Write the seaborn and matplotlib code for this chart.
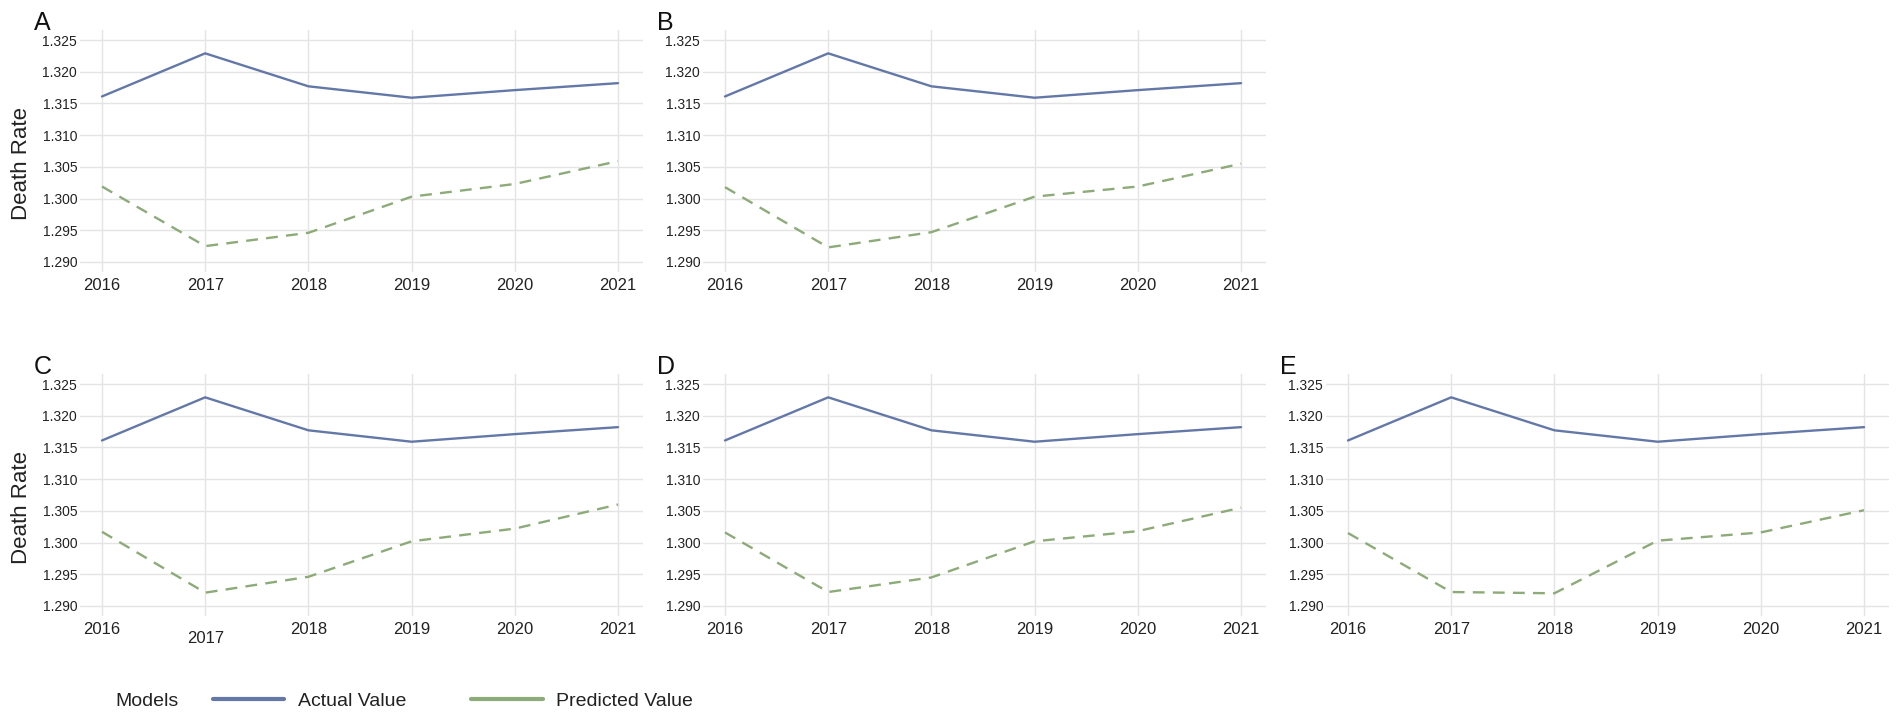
import pandas as pd
import seaborn as sns
import matplotlib.pyplot as plt
from matplotlib.lines import Line2D

years = [2016, 2017, 2018, 2019, 2020, 2021]

actual = [1.3161, 1.3229, 1.3177, 1.3159, 1.3171, 1.3182]

pred_a = [1.3019, 1.2925, 1.2946, 1.3003, 1.3023, 1.3059]
pred_b = [1.3018, 1.2923, 1.2947, 1.3003, 1.3019, 1.3055]
pred_c = [1.3017, 1.2921, 1.2946, 1.3002, 1.3022, 1.3060]
pred_d = [1.3016, 1.2922, 1.2945, 1.3002, 1.3018, 1.3055]
pred_e = [1.3015, 1.2922, 1.2920, 1.3003, 1.3016, 1.3051]

panels = {'A': pred_a, 'B': pred_b, 'C': pred_c, 'D': pred_d, 'E': pred_e}
y_ticks = [1.290, 1.295, 1.300, 1.305, 1.310, 1.315, 1.320, 1.325]

blue = '#6478a8'
green = '#8dab79'

sns.set_style('white')
plt.rcParams['font.family'] = ['Liberation Sans', 'DejaVu Sans']

W, H = 1902, 720
fig = plt.figure(figsize=(W / 100, H / 100), dpi=100)

# pixel layout of the panels (left, top)
col_left = [80, 703, 1326]
row_top = [30, 374]
aw, ah = 563, 242
where = {'A': (0, 0), 'B': (0, 1), 'C': (1, 0), 'D': (1, 1), 'E': (1, 2)}

for name, pred in panels.items():
    r, c = where[name]
    l, t = col_left[c], row_top[r]
    ax = fig.add_axes([l / W, 1 - (t + ah) / H, aw / W, ah / H])

    df = pd.DataFrame({
        'Year': years * 2,
        'Death Rate': actual + pred,
        'Models': ['Actual Value'] * 6 + ['Predicted Value'] * 6,
    })
    sns.lineplot(data=df, x='Year', y='Death Rate', hue='Models', style='Models',
                 palette={'Actual Value': blue, 'Predicted Value': green},
                 dashes={'Actual Value': '', 'Predicted Value': (5, 3.5)},
                 linewidth=1.7, legend=False, ax=ax)

    ax.set_xlim(2015.787, 2021.242)
    ax.set_ylim(1.28842, 1.32658)
    ax.set_xticks(years)
    ax.set_xticklabels([str(y) for y in years])
    ax.set_yticks(y_ticks)
    ax.set_yticklabels([f'{v:.3f}' for v in y_ticks])
    ax.grid(True, color='#e4e4e4', linewidth=1)
    ax.set_axisbelow(True)
    for s in ax.spines.values():
        s.set_visible(False)
    ax.tick_params(axis='x', length=0, pad=4, labelsize=12, colors='#222222')
    ax.tick_params(axis='y', length=0, pad=2, labelsize=10, colors='#222222')
    ax.set_xlabel('')
    if c == 0:
        ax.set_ylabel('Death Rate', fontsize=16, color='#222222')
        ax.yaxis.set_label_coords(-0.085, 0.45)
    else:
        ax.set_ylabel('')
    if name == 'C':
        ax.xaxis.get_major_ticks()[1].set_pad(10.5)

    fig.text((l - 46) / W, 1 - t / H, name, fontsize=18, va='baseline',
             ha='left', color='#111111')

handles = [Line2D([], [], color=blue, lw=3),
           Line2D([], [], color=green, lw=3)]
fig.text(115 / W, 1 - 701 / H, 'Models', fontsize=14, va='center', color='#222222')
fig.legend(handles, ['Actual Value', 'Predicted Value'], loc='center left',
           bbox_to_anchor=(195 / W, 1 - 701 / H), ncol=2, frameon=False,
           fontsize=14, handlelength=3.7, handletextpad=0.7, columnspacing=3.3,
           labelcolor='#222222')

fig.savefig('out.png', dpi=100)
